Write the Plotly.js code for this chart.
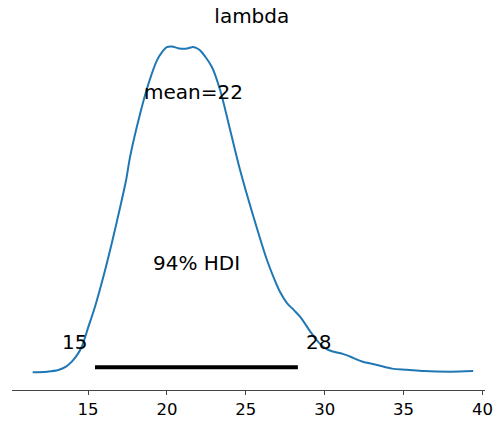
<!DOCTYPE html>
<html>
<head>
<meta charset="utf-8">
<script src="https://cdn.plot.ly/plotly-3.0.1.min.js"></script>
<style>html,body{margin:0;padding:0;background:#fff;}#chart{width:497px;height:423px;}</style>
</head>
<body>
<div id="chart"></div>
<script>
// KDE of the posterior of lambda
const kdeX = [11.49, 12.40, 13.12, 13.60, 13.97, 14.30, 14.60, 15.02, 15.44, 15.97, 16.50, 16.99, 17.41, 17.66, 18.30, 18.83, 19.36, 19.70, 19.99, 20.31, 20.70, 21.05, 21.35, 21.58, 21.85, 22.11, 22.85, 23.38, 24.01, 24.64, 25.49, 26.34, 26.80, 27.18, 27.61, 28.05, 28.45, 29.09, 29.60, 30.15, 30.60, 31.20, 31.80, 32.37, 33.32, 34.27, 35.22, 36.28, 37.97, 39.41];
const kdeY = [0.0005, 0.0007, 0.0012, 0.0022, 0.0037, 0.0056, 0.0081, 0.0140, 0.0200, 0.0289, 0.0388, 0.0487, 0.0576, 0.0645, 0.0774, 0.0863, 0.0932, 0.0958, 0.0972, 0.0974, 0.0969, 0.0967, 0.0969, 0.0972, 0.0970, 0.0962, 0.0913, 0.0843, 0.0725, 0.0606, 0.0467, 0.0339, 0.0283, 0.0243, 0.0211, 0.0190, 0.0170, 0.0126, 0.0095, 0.0073, 0.0066, 0.0059, 0.0048, 0.0037, 0.0027, 0.0016, 0.0013, 0.0009, 0.0007, 0.0009];
const hdiBounds = [15.44, 28.3];
const hdiLabels = ["15", "28"];
const meanVal = 21.7;
const meanLabel = "mean=22";
const hdiText = "94% HDI";
const titleText = "lambda";
const tickVals = [15, 20, 25, 30, 35, 40];

const plotHeight = 0.102;
const FONT = "DejaVu Sans, sans-serif";

const traces = [
  {x: kdeX, y: kdeY, type: 'scatter', mode: 'lines', line: {color: '#1f77b4', width: 2, shape: 'spline', smoothing: 0.8}, hoverinfo: 'skip'},
  {x: hdiBounds, y: [plotHeight * 0.02, plotHeight * 0.02], type: 'scatter', mode: 'lines', line: {color: '#000', width: 4}, hoverinfo: 'skip'}
];

const layout = {
  width: 497, height: 423,
  margin: {l: 12, r: 12, t: 30.5, b: 33},
  paper_bgcolor: '#fff', plot_bgcolor: '#fff',
  showlegend: false,
  font: {family: FONT, color: '#000'},
  title: {text: titleText, font: {family: FONT, size: 20, color: '#000'}, x: 0.507, xref: 'paper', xanchor: 'center', y: 0.961, yref: 'container', yanchor: 'middle'},
  xaxis: {range: [10.18, 40.16], tickvals: tickVals, ticktext: tickVals.map(String), showgrid: false, zeroline: false,
          showline: true, linecolor: '#444', linewidth: 1, ticks: 'outside', ticklen: 4, tickcolor: '#444',
          tickfont: {family: FONT, size: 16.5, color: '#000'}},
  yaxis: {range: [-0.0466 * plotHeight, plotHeight], visible: false, showgrid: false, zeroline: false},
  annotations: [
    {x: meanVal, y: plotHeight * 0.80, xref: 'x', yref: 'y', text: meanLabel, showarrow: false, xanchor: 'center', yanchor: 'bottom', yshift: -6, font: {family: FONT, size: 20, color: '#000'}},
    {x: (hdiBounds[0] + hdiBounds[1]) / 2, y: plotHeight * 0.30, xref: 'x', yref: 'y', text: hdiText, showarrow: false, xanchor: 'center', yanchor: 'bottom', yshift: -6, font: {family: FONT, size: 20, color: '#000'}},
    {x: hdiBounds[0], y: plotHeight * 0.07, xref: 'x', yref: 'y', text: hdiLabels[0], showarrow: false, xanchor: 'right', yanchor: 'bottom', xshift: -6, yshift: -6, font: {family: FONT, size: 20, color: '#000'}},
    {x: hdiBounds[1], y: plotHeight * 0.07, xref: 'x', yref: 'y', text: hdiLabels[1], showarrow: false, xanchor: 'left', yanchor: 'bottom', xshift: 6, yshift: -6, font: {family: FONT, size: 20, color: '#000'}}
  ]
};

Plotly.newPlot('chart', traces, layout, {displayModeBar: false, staticPlot: true});
</script>
</body>
</html>
